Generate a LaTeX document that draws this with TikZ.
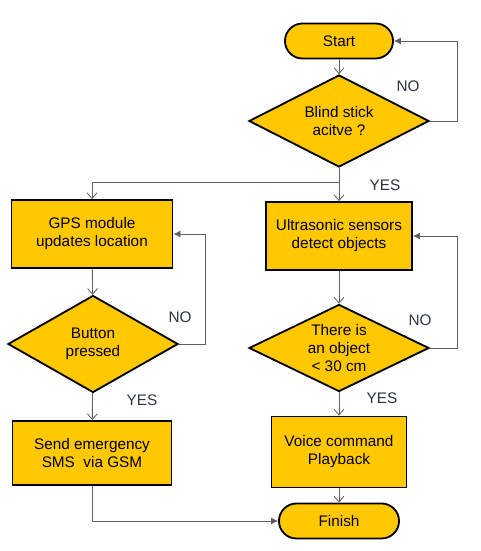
\documentclass[tikz,border=0pt]{standalone}
\usepackage{fontspec}
\setmainfont{Liberation Sans}
\usepackage{xcolor}
\usepackage{tikz}
\usetikzlibrary{shapes.geometric, arrows.meta, positioning, calc}
\definecolor{gold}{RGB}{255,200,0}
\definecolor{linegray}{RGB}{95,95,95}
\definecolor{labelgray}{RGB}{45,52,62}
\tikzstyle{terminal} = [rectangle, rounded corners=0.437cm, minimum height=0.875cm, text centered, draw=black, line width=1.3pt, fill=gold, font=\fontsize{10.9}{12.8}\selectfont]
\tikzstyle{process} = [rectangle, minimum height=1.7cm, align=center, draw=black, line width=1.3pt, fill=gold, font=\fontsize{10.9}{12.8}\selectfont]
\tikzstyle{decision} = [diamond, aspect=2, inner sep=0pt, align=center, draw=black, line width=1.3pt, fill=gold, font=\fontsize{10.9}{12.8}\selectfont]
\tikzstyle{arrow} = [line width=0.6pt, draw=linegray, -{Straight Barb[length=4pt,width=7pt]}]
\tikzstyle{backarrow} = [line width=0.6pt, draw=linegray, -{Latex[length=5pt,width=5pt]}]
\tikzstyle{answer} = [text=labelgray, font=\fontsize{10.9}{12.8}\selectfont]

\begin{document}
\begin{tikzpicture}[x=0.025cm, y=-0.025cm]
    \useasboundingbox (0,0) rectangle (480,551);

    % Main column
    \node[terminal, minimum width=2.7cm] (start) at (339,41) {Start};
    \node[decision, minimum width=4.5cm, minimum height=2.3cm] (active) at (339,121) {Blind stick\\acitve ?};
    \node[process, minimum width=3.65cm] (ultra) at (339,236) {Ultrasonic sensors\\detect objects};
    \node[decision, minimum width=4.5cm, minimum height=2.175cm] (object) at (339,348) {There is\\an object\\< 30 cm};
    \node[process, minimum width=3.375cm, minimum height=1.775cm] (voice) at (339,452) {Voice command\\Playback};
    \node[terminal, minimum width=3cm] (finish) at (339,521) {Finish};

    % GPS column
    \node[process, minimum width=4.025cm] (gps) at (92,234) {GPS module\\updates location};
    \node[decision, minimum width=4.25cm, minimum height=2.425cm] (button) at (93,344) {Button\\pressed};
    \node[process, minimum width=3.975cm, minimum height=1.6cm] (sms) at (92,453) {Send emergency\\SMS \ via GSM};

    % Labels
    \node[answer] (no1) at (408,86) {NO};
    \node[answer] (yes1) at (385,185) {YES};
    \node[answer] (no2) at (180,317) {NO};
    \node[answer] (yes2) at (142,400) {YES};
    \node[answer] (no3) at (420,320) {NO};
    \node[answer] (yes3) at (382,398) {YES};

    % Connectors
    \coordinate (split) at (339,182);
    \draw[arrow] (start) -- (active);
    \draw[backarrow] (active.east) -- ++(27,0) |- (start.east);
    \draw[line width=0.6pt, draw=linegray] (active.south) -- (split);
    \draw[arrow] (split) -| (gps.north);
    \draw[arrow] (split) -- (ultra.north);
    \draw[arrow] (ultra) -- (object);
    \draw[backarrow] (object.east) -- ++(27,0) |- (ultra.east);
    \draw[arrow] (object) -- (voice);
    \draw[arrow] (voice) -- (finish);
    \draw[arrow] (gps) -- (button);
    \draw[backarrow] (button.east) -- ++(26,0) |- (gps.east);
    \draw[arrow] (button) -- (sms);
    \draw[backarrow] (sms.south) |- (finish.west);
\end{tikzpicture}
\end{document}
